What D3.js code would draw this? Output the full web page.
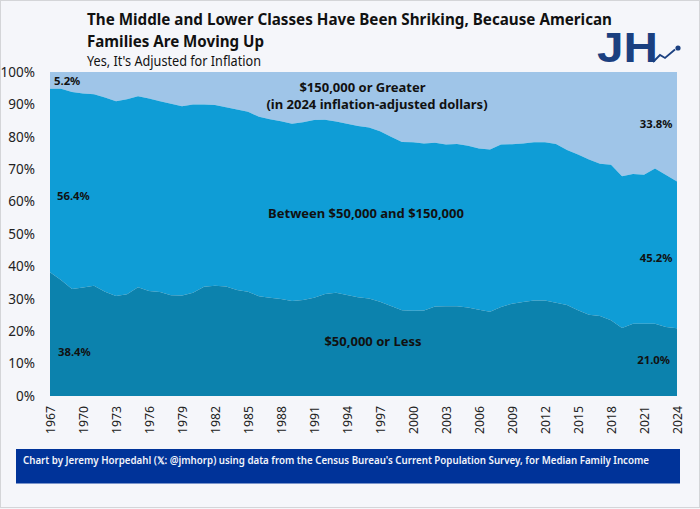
<!DOCTYPE html>
<html lang="en">
<head>
    <meta charset="UTF-8">
    <script src="https://d3js.org/d3.v7.min.js"></script>
    <title>Family income classes</title>
    <style>
        html, body { margin: 0; padding: 0; background: #f5f6fa; }
        svg { display: block; }
        text { font-family: "Noto Sans", sans-serif; fill: #111; }
        .axis text { fill: #222; }
    </style>
</head>
<body>
<svg class="chart"></svg>

<script>
    // share of families at or below $50,000
    const lower = [38.2, 35.8, 33.0, 33.5, 34.0, 32.2, 30.9, 31.4, 33.6, 32.4,
        32.1, 31.1, 31.0, 31.9, 33.7, 34.0, 33.8, 32.7, 32.2, 30.8,
        30.3, 29.9, 29.3, 29.6, 30.3, 31.5, 31.9, 31.2, 30.5, 30.1,
        29.1, 27.8, 26.5, 26.3, 26.4, 27.6, 27.7, 27.7, 27.3, 26.6,
        26.0, 27.5, 28.5, 29.0, 29.5, 29.5, 28.8, 28.1, 26.5, 25.1,
        24.7, 23.4, 21.0, 22.3, 22.3, 22.3, 21.3, 20.9];
    // share of families at or below $150,000 (top edge of the middle band)
    const lowerAndMiddle = [94.8, 94.8, 93.8, 93.4, 93.1, 92.1, 91.0, 91.6, 92.5, 91.8,
        91.0, 90.2, 89.4, 90.0, 90.0, 89.8, 89.1, 88.4, 87.7, 86.2,
        85.4, 84.8, 84.0, 84.5, 85.2, 85.3, 84.7, 84.0, 83.3, 82.9,
        81.7, 80.0, 78.4, 78.3, 77.9, 78.2, 77.6, 77.8, 77.2, 76.4,
        76.1, 77.6, 77.7, 77.9, 78.3, 78.3, 77.8, 75.9, 74.5, 73.0,
        71.7, 71.4, 67.8, 68.5, 68.3, 70.2, 68.2, 66.2];
    const firstYear = 1967;
    const lastYear = 2024;
    const years = d3.range(firstYear, lastYear + 1);
    const yearTicks = d3.range(firstYear, lastYear + 1, 3);
    const percentTicks = [0, 10, 20, 30, 40, 50, 60, 70, 80, 90, 100];

    const chart_width = 700;
    const chart_height = 509;
    const plot_left = 50, plot_right = 677, plot_top = 72, plot_bottom = 396;

    const x = d3.scaleLinear().domain([firstYear, lastYear]).range([plot_left, plot_right]);
    const y = d3.scaleLinear().domain([0, 100]).range([plot_bottom, plot_top]);

    const svg = d3.select('.chart').attr('width', chart_width).attr('height', chart_height);

    // page frame
    svg.append('rect')
        .attr('x', 0.5).attr('y', 0.5)
        .attr('width', chart_width - 1).attr('height', chart_height - 2)
        .style('fill', '#f5f6fa').style('stroke', '#d4d5d8').style('stroke-width', 1);

    const bands = [
        { lo: () => 100, hi: (d, i) => lowerAndMiddle[i], color: '#9fc5e8' },
        { lo: (d, i) => lowerAndMiddle[i], hi: (d, i) => lower[i], color: '#0f9dd6' },
        { lo: (d, i) => lower[i], hi: () => 0, color: '#0c82ad' }
    ];

    bands.forEach(function (band) {
        const area = d3.area()
            .x(function (d) { return x(d); })
            .y0(function (d, i) { return y(band.lo(d, i)); })
            .y1(function (d, i) { return y(band.hi(d, i)); });
        svg.append('path').datum(years).attr('d', area).style('fill', band.color);
    });

    // axes
    const yAxis = svg.append('g')
        .attr('class', 'axis')
        .attr('transform', 'translate(' + plot_left + ',0)')
        .call(d3.axisLeft(y).tickValues(percentTicks).tickSize(0).tickPadding(15)
            .tickFormat(function (d) { return d + '%'; }));
    yAxis.select('.domain').remove();
    yAxis.selectAll('text').style('font-size', '13.5px');

    const xAxis = svg.append('g')
        .attr('class', 'axis')
        .attr('transform', 'translate(0,' + plot_bottom + ')')
        .call(d3.axisBottom(x).tickValues(yearTicks).tickSize(0)
            .tickFormat(d3.format('d')));
    xAxis.select('.domain').remove();
    xAxis.selectAll('text')
        .style('font-size', '13px')
        .style('text-anchor', 'end')
        .attr('dy', '0.35em')
        .attr('transform', 'translate(0,10) rotate(-90)')
        .attr('x', 0).attr('y', 0)
        .attr('textLength', 28).attr('lengthAdjust', 'spacingAndGlyphs');

    function label(str, px, py, size, anchor, weight, fit) {
        let t = svg.append('text')
            .attr('x', px).attr('y', py)
            .style('font-size', size + 'px')
            .style('font-weight', weight || 700)
            .style('text-anchor', anchor || 'middle')
            .text(str);
        if (fit) t.attr('textLength', fit).attr('lengthAdjust', 'spacingAndGlyphs');
    }

    // titles
    label('The Middle and Lower Classes Have Been Shriking, Because American', 87, 25, 15.2, 'start', 700, 525);
    label('Families Are Moving Up', 87, 47, 15.2, 'start', 700, 177);
    label("Yes, It's Adjusted for Inflation", 87, 66, 13.6, 'start', 400, 174);

    // band labels
    label('$150,000 or Greater', 362.5, 92, 13);
    label('(in 2024 inflation-adjusted dollars)', 377, 109, 13);
    label('Between $50,000 and $150,000', 366, 218, 13);
    label('$50,000 or Less', 373, 346, 13);

    // end point values
    label('5.2%', 54, 85, 11.3, 'start');
    label('56.4%', 57, 200, 11.3, 'start');
    label('38.4%', 58, 356, 11.3, 'start');
    label('33.8%', 672.5, 128, 11.3, 'end');
    label('45.2%', 672.5, 262, 11.3, 'end');
    label('21.0%', 670, 364, 11.3, 'end');

    // footer band
    svg.append('rect')
        .attr('x', 16).attr('y', 449)
        .attr('width', 664).attr('height', 34.5)
        .style('fill', '#003399');
    svg.append('text')
        .attr('x', 23).attr('y', 464)
        .style('font-size', '10.2px').style('font-weight', 600).style('fill', '#f2f4fa')
        .attr('textLength', 626).attr('lengthAdjust', 'spacingAndGlyphs')
        .text("Chart by Jeremy Horpedahl (\u{1D54F}: @jmhorp) using data from the Census Bureau's Current Population Survey, for Median Family Income");

    // logo
    const logo = svg.append('g').attr('transform', 'translate(597,62)');
    logo.append('text')
        .attr('x', 0).attr('y', 0)
        .style('font-family', '"Liberation Sans", sans-serif')
        .style('font-size', '42px').style('font-weight', 700).style('fill', '#1b4080')
        .attr('textLength', 61).attr('lengthAdjust', 'spacingAndGlyphs')
        .text('JH');
    logo.append('path')
        .attr('d', 'M56,0 L63,-7 L68,-4 L78,-12.5')
        .style('fill', 'none').style('stroke', '#1b4080').style('stroke-width', 1.8);
    logo.append('circle')
        .attr('cx', 81).attr('cy', -14).attr('r', 2.6)
        .style('fill', '#1b4080');
</script>
</body>
</html>
